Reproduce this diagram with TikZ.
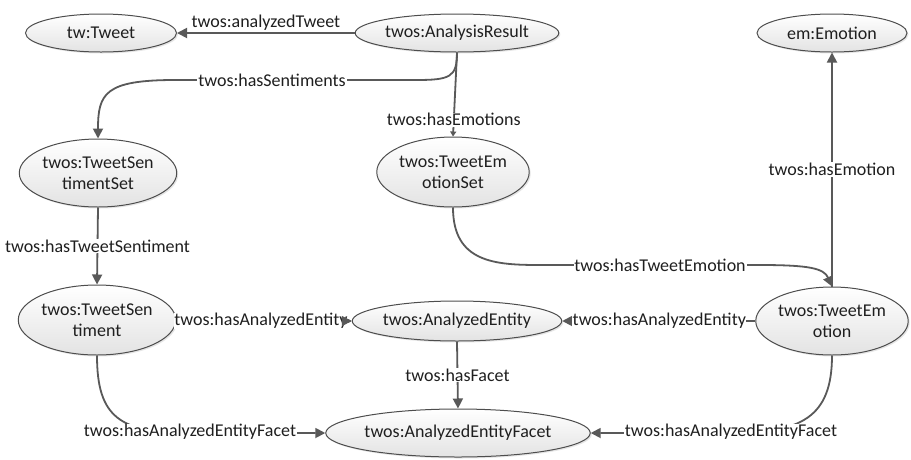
\documentclass[tikz,border=0pt]{standalone}
\usepackage{fontspec}
\setmainfont{Carlito}
\usetikzlibrary{shapes.geometric,arrows.meta,shadows}
\definecolor{edgegray}{HTML}{595959}
\definecolor{rimgray}{HTML}{4D4D4D}
\definecolor{inkgray}{HTML}{1F1F1F}
\tikzset{
  cls/.style={ellipse, draw=rimgray, line width=1pt, top color=white, bottom color=gray!22,
    inner sep=0pt, align=center, font=\fontsize{18}{21}\selectfont, text=inkgray,
    drop shadow={shadow xshift=1.5pt, shadow yshift=-1.5pt, fill=gray!40, opacity=0.5}},
  rel/.style={draw=edgegray, line width=1.8pt, -{Triangle[length=10pt,width=10pt]}},
  relsmall/.style={draw=edgegray, line width=1.8pt, -{Triangle[length=5pt,width=6pt]}},
  lbl/.style={fill=white, inner sep=0.8pt, font=\fontsize{18}{21}\selectfont, text=inkgray},
}
\begin{document}
\begin{tikzpicture}[x=1pt,y=-1pt]
\useasboundingbox (0,0) rectangle (911,459);
\fill[white] (0,0) rectangle (911,459);

% classes
\node[cls, minimum width=151pt, minimum height=38pt] (tw) at (101,33) {tw:Tweet};
\node[cls, minimum width=193pt, minimum height=38pt] (ar) at (457,33) {twos:AnalysisResult};
\node[cls, minimum width=150pt, minimum height=38pt] (em) at (832,33) {em:Emotion};
\node[cls, minimum width=151pt, minimum height=68pt] (tss) at (98,173) {twos:TweetSen\\timentSet};
\node[cls, minimum width=151pt, minimum height=70pt] (tes) at (453,172) {twos:TweetEm\\otionSet};
\node[cls, minimum width=150pt, minimum height=70pt] (ts) at (97,320) {twos:TweetSen\\timent};
\node[cls, minimum width=195pt, minimum height=40pt] (ae) at (457,321) {twos:AnalyzedEntity};
\node[cls, minimum width=150pt, minimum height=68pt] (te) at (832,321) {twos:TweetEm\\otion};
\node[cls, minimum width=250pt, minimum height=48pt] (af) at (458,433) {twos:AnalyzedEntityFacet};

% properties
\draw[rel] (ar) -- (tw) node[lbl, fill=none, midway, above=1pt] {twos:analyzedTweet};

\draw[rel] (ar.south) .. controls +(0,25) and +(35,0) .. (415,80) -- (175,80)
  .. controls +(-70,0) and +(0,-45) .. (tss.north);
\node[lbl] (lsent) at (272,80) {twos:hasSentiments};

\draw[relsmall] (ar.south) -- (tes.north) node[lbl, pos=0.8] {twos:hasEmotions};

\draw[rel] (tss.south) -- (ts.north) node[lbl, midway] {twos:hasTweetSentiment};

\draw[rel] (tes.south) .. controls +(0,55) and +(-45,0) .. (540,265) -- (760,265)
  .. controls +(50,0) and +(-8,-18) .. (te.north);
\node[lbl] (ltemo) at (660,265) {twos:hasTweetEmotion};

\draw[rel] (te.north) -- (em.south) node[lbl, midway] {twos:hasEmotion};

% the labels sit close to the arrow tips; the heads are drawn again on top
\draw[rel] (ts.east) -- (ae.west);
\node[lbl, inner sep=0pt, anchor=east] (lsent2) at ([xshift=-4pt]ae.west) {twos:hasAnalyzedEntity};
\draw[rel] ([xshift=-9pt]ae.west) -- (ae.west);
\draw[rel] (te.west) -- (ae.east);
\node[lbl, inner sep=0.3pt, anchor=west] (lemo2) at ([xshift=10pt]ae.east) {twos:hasAnalyzedEntity};

\draw[rel] (ae.south) -- (af.north) node[lbl, midway] {twos:hasFacet};

\draw[rel] (ts.south) .. controls +(0,62) and +(-70,0) .. (190,433) -- (af.west);
\node[lbl] (lsfac) at (190,432) {twos:hasAnalyzedEntityFacet};

\draw[rel] (te.south) .. controls +(0,62) and +(70,0) .. (731,433) -- (af.east);
\node[lbl] (lefac) at (731,432) {twos:hasAnalyzedEntityFacet};
\end{tikzpicture}
\end{document}
